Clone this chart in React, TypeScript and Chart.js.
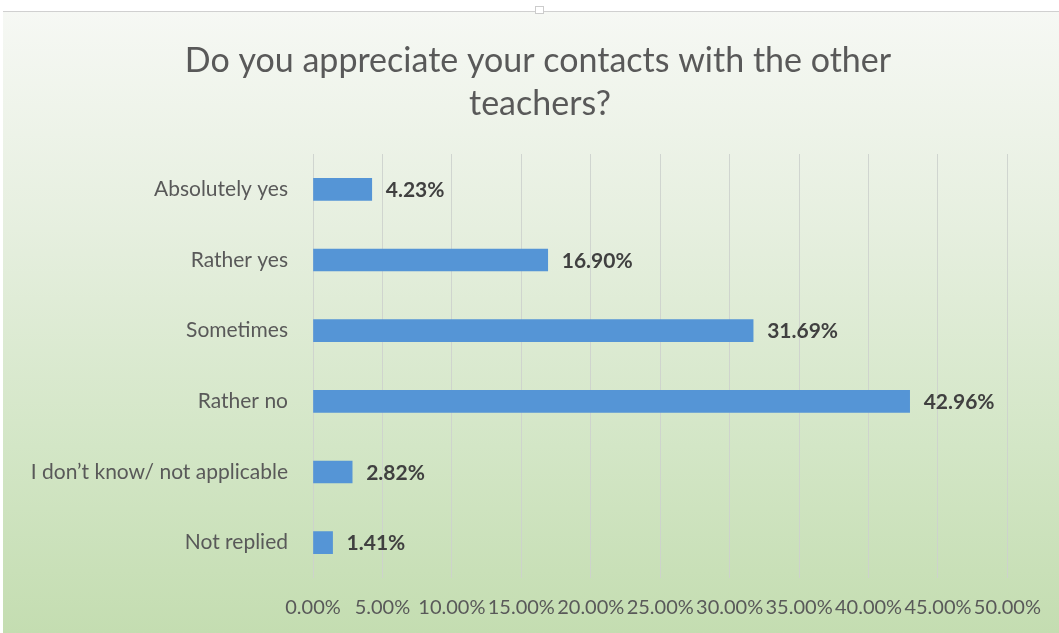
import React, { useEffect, useRef } from 'react';
import { Chart, registerables } from 'chart.js';

Chart.register(...registerables);

const titleLines = ['Do you appreciate your contacts with the other', 'teachers?'];
const categories = ['Absolutely yes', 'Rather yes', 'Sometimes', 'Rather no', 'I don’t know/ not applicable', 'Not replied'];
const values = [4.23, 16.9, 31.69, 42.96, 2.82, 1.41];
const xMin = 0;
const xMax = 50;
const xStep = 5;

const W = 1059;
const H = 633;
const FONT = 'Lato, "Open Sans", sans-serif';

const backgroundPlugin = {
  id: 'bgPlugin',
  beforeDraw(chart: any) {
    const ctx = chart.ctx;
    ctx.save();
    ctx.fillStyle = '#ffffff';
    ctx.fillRect(0, 0, W, H);
    const g = ctx.createLinearGradient(0, 11, 0, H);
    g.addColorStop(0, '#f6f8f4');
    g.addColorStop(0.35, '#e6efdf');
    g.addColorStop(0.7, '#d3e6c6');
    g.addColorStop(1, '#c4ddb1');
    ctx.fillStyle = g;
    ctx.fillRect(3, 11, W - 3, H - 11);
    ctx.strokeStyle = '#d0d0d0';
    ctx.lineWidth = 1;
    ctx.beginPath();
    ctx.moveTo(3, 11.5);
    ctx.lineTo(W, 11.5);
    ctx.stroke();
    ctx.fillStyle = '#ffffff';
    ctx.fillRect(535, 6, 9, 8);
    ctx.strokeStyle = '#cccccc';
    ctx.strokeRect(535.5, 6.5, 8, 7);

    // title
    ctx.fillStyle = '#595959';
    ctx.font = `400 34px ${FONT}`;
    ctx.textAlign = 'center';
    ctx.textBaseline = 'middle';
    ctx.fillText(titleLines[0], 538, 61);
    ctx.fillText(titleLines[1], 540, 104);
    ctx.restore();
  },
};

const labelPlugin = {
  id: 'valueLabels',
  afterDatasetsDraw(chart: any) {
    const ctx = chart.ctx;
    const meta = chart.getDatasetMeta(0);
    ctx.save();
    ctx.font = `bold 21px ${FONT}`;
    ctx.fillStyle = '#404040';
    ctx.textAlign = 'left';
    ctx.textBaseline = 'middle';
    meta.data.forEach((bar: any, i: number) => {
      ctx.fillText(values[i].toFixed(2) + '%', bar.x + 14, bar.y + 1);
    });
    ctx.restore();
  },
};

export default function App() {
  const ref = useRef<HTMLCanvasElement | null>(null);

  useEffect(() => {
    document.body.style.margin = '0';
    if (!ref.current) return;
    const chart = new Chart(ref.current, {
      type: 'bar',
      data: {
        labels: categories,
        datasets: [
          {
            data: values,
            backgroundColor: '#5595d6',
            borderWidth: 0,
            barThickness: 22,
          },
        ],
      },
      options: {
        indexAxis: 'y',
        responsive: false,
        animation: false,
        layout: { padding: { top: 154, left: 3, right: 51, bottom: 13 } },
        plugins: {
          legend: { display: false },
          tooltip: { enabled: false },
          title: { display: false },
        },
        scales: {
          x: {
            min: xMin,
            max: xMax,
            grid: { color: 'rgba(205,210,205,0.9)', drawTicks: false },
            border: { display: false },
            ticks: {
              stepSize: xStep,
              padding: 18,
              color: '#595959',
              font: { family: FONT, size: 20 },
              callback: (v: any) => Number(v).toFixed(2) + '%',
              maxRotation: 0,
              autoSkip: false,
            },
            afterFit: (scale: any) => {
              scale.height = 42;
            },
          },
          y: {
            grid: { display: false, drawTicks: false },
            border: { display: false },
            ticks: {
              padding: 25,
              color: '#595959',
              font: { family: FONT, size: 21 },
            },
            afterFit: (scale: any) => {
              scale.width = 310;
            },
          },
        },
      },
      plugins: [backgroundPlugin, labelPlugin],
    });
    return () => chart.destroy();
  }, []);

  return (
    <div style={{ width: W, height: H }}>
      <canvas ref={ref} width={W} height={H} style={{ display: 'block' }} />
    </div>
  );
}
